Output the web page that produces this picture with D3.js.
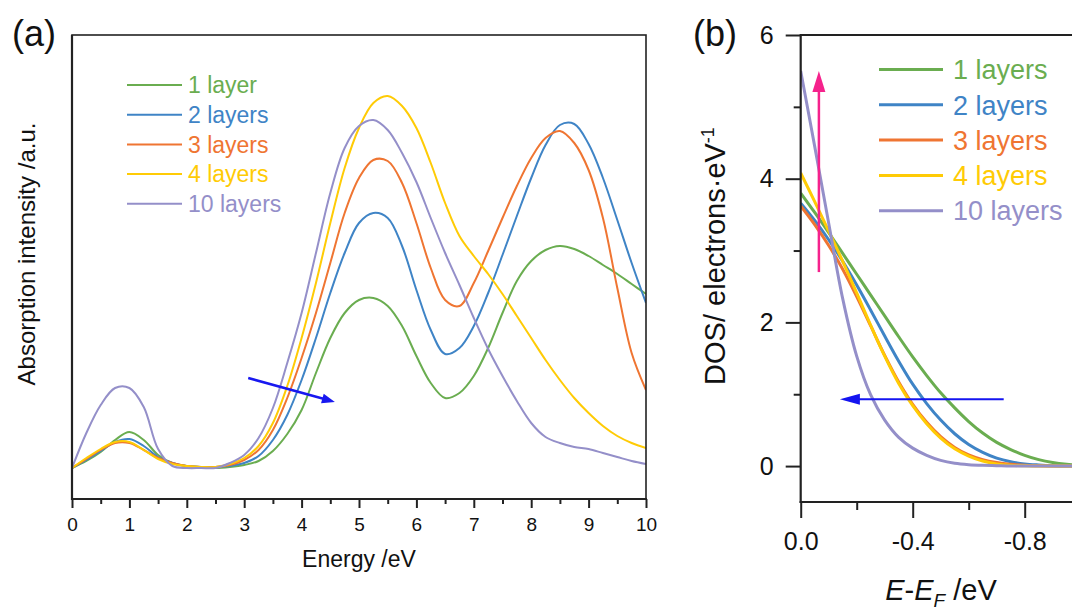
<!DOCTYPE html>
<html><head><meta charset="utf-8">
<script src="https://cdn.jsdelivr.net/npm/d3@7"></script>
<style>
body{margin:0;background:#fff}
text{font-family:Arial,"Liberation Sans",sans-serif}
</style>
</head><body>
<svg id="c" width="1072" height="610"></svg>
<script>
// ---------- DATA ----------
const namesA = ["1 layer","2 layers","3 layers","4 layers","10 layers"];
const namesB = ["1 layers","2 layers","3 layers","4 layers","10 layers"];
const colors = ["#6aad50","#3f84c6","#ef7532","#ffcb05","#948fc9"];

// Panel (a): absorption spectra, energy in eV
const energy = [0,0.25,0.5,0.75,1,1.25,1.5,1.75,2,2.25,2.5,2.75,3,3.25,3.5,3.75,4,4.25,4.5,4.75,5,5.25,5.5,5.75,6,6.25,6.5,6.75,7,7.25,7.5,7.75,8,8.25,8.5,8.75,9,9.25,9.5,9.75,10];
const abs1 = [0,0.07,0.16,0.28,0.36,0.28,0.13,0.05,0.02,0.01,0,0.01,0.03,0.07,0.17,0.34,0.58,0.95,1.3,1.55,1.68,1.7,1.62,1.42,1.12,0.85,0.7,0.75,0.92,1.2,1.55,1.87,2.07,2.18,2.22,2.19,2.12,2.03,1.94,1.84,1.74];
const abs2 = [0,0.08,0.17,0.26,0.29,0.22,0.11,0.05,0.02,0.01,0.01,0.02,0.05,0.12,0.28,0.53,0.88,1.3,1.75,2.15,2.45,2.55,2.5,2.22,1.78,1.38,1.14,1.2,1.42,1.75,2.13,2.52,2.9,3.23,3.43,3.44,3.24,2.9,2.48,2.05,1.65];
const abs3 = [0,0.09,0.18,0.25,0.25,0.18,0.1,0.05,0.02,0.01,0.01,0.03,0.08,0.18,0.38,0.7,1.1,1.55,2.05,2.55,2.9,3.08,3.07,2.85,2.45,2.0,1.68,1.62,1.85,2.17,2.5,2.82,3.1,3.3,3.37,3.25,2.98,2.5,1.8,1.15,0.78];
const abs4 = [0,0.1,0.19,0.26,0.26,0.18,0.09,0.04,0.02,0.01,0.01,0.04,0.1,0.22,0.45,0.82,1.3,1.85,2.45,3.0,3.4,3.65,3.72,3.62,3.4,3.05,2.65,2.32,2.12,1.94,1.74,1.52,1.3,1.08,0.88,0.7,0.55,0.42,0.32,0.25,0.2];
const abs10 = [0,0.35,0.63,0.8,0.8,0.61,0.19,0.02,0,0,0,0.05,0.13,0.3,0.6,1.05,1.55,2.15,2.75,3.2,3.42,3.48,3.38,3.15,2.86,2.5,2.15,1.83,1.5,1.19,0.92,0.67,0.45,0.31,0.25,0.21,0.19,0.15,0.11,0.07,0.04];
const absSeries = [abs1,abs2,abs3,abs4,abs10];
const energyTicks = [0,1,2,3,4,5,6,7,8,9,10];
const energyMinor = [0.5,1.5,2.5,3.5,4.5,5.5,6.5,7.5,8.5,9.5];

// Panel (b): DOS near Fermi level
const eRel = [0,-0.05,-0.1,-0.15,-0.2,-0.25,-0.3,-0.35,-0.4,-0.45,-0.5,-0.55,-0.6,-0.65,-0.7,-0.75,-0.8,-0.85,-0.9,-0.95,-1.0];
const dos1 = [3.8,3.53,3.25,2.96,2.67,2.38,2.09,1.8,1.52,1.26,1.02,0.81,0.62,0.46,0.33,0.23,0.15,0.09,0.05,0.025,0.01];
const dos2 = [3.66,3.42,3.15,2.85,2.52,2.17,1.81,1.46,1.14,0.87,0.64,0.45,0.3,0.19,0.11,0.06,0.03,0.015,0.005,0,0];
const dos3 = [3.62,3.36,3.07,2.74,2.36,1.95,1.54,1.17,0.86,0.61,0.41,0.26,0.155,0.09,0.05,0.025,0.01,0.004,0,0,0];
const dos4 = [4.08,3.68,3.27,2.85,2.41,1.96,1.53,1.15,0.84,0.59,0.39,0.24,0.14,0.07,0.03,0.01,0.003,0,0,0,0];
const dos10 = [5.5,4.45,3.38,2.33,1.53,0.99,0.64,0.4,0.25,0.15,0.08,0.04,0.02,0.01,0.005,0,0,0,0,0,0];
const dosSeries = [dos1,dos2,dos3,dos4,dos10];
const eRelTicks = [0,-0.4,-0.8];
const eRelMinor = [-0.2,-0.6,-1.0];
const dosTicks = [0,2,4,6];
const dosMinor = [1,3,5];

// annotation arrows in data coordinates [x1,y1,x2,y2]
const arrowA = [3.07,0.9,4.58,0.66];
const arrowBup = [-0.065,2.7,-0.065,5.5];
const arrowBleft = [-0.725,0.93,-0.14,0.93];

// ---------- DRAW ----------
const svg = d3.select("#c");
svg.append("rect").attr("width",1072).attr("height",610).attr("fill","#fff");
const axisCol = "#222";

function arrow(g, x1,y1,x2,y2,col,w,hl,hw){
  const dx=x2-x1, dy=y2-y1, L=Math.hypot(dx,dy), ux=dx/L, uy=dy/L;
  const bx=x2-ux*hl, by=y2-uy*hl;
  g.append("line").attr("x1",x1).attr("y1",y1).attr("x2",bx+ux*2).attr("y2",by+uy*2)
    .attr("stroke",col).attr("stroke-width",w);
  g.append("path").attr("d",`M${x2},${y2}L${bx-uy*hw},${by+ux*hw}L${bx+uy*hw},${by-ux*hw}Z`).attr("fill",col);
}

// ===== Panel (a) =====
const xa = d3.scaleLinear().domain([0,10]).range([72,646]);
const ya = d3.scaleLinear().domain([-0.31,4.33]).range([499,35]);
const ga = svg.append("g");
ga.append("clipPath").attr("id","ca").append("rect").attr("x",72).attr("y",35).attr("width",574).attr("height",464);
const lineA = d3.line().x((d,i)=>xa(energy[i])).y(d=>ya(d)).curve(d3.curveCatmullRom.alpha(0.5));
[0,1,2,3,4].forEach(k=>{
  ga.append("path").attr("d",lineA(absSeries[k])).attr("fill","none")
    .attr("stroke",colors[k]).attr("stroke-width",2).attr("clip-path","url(#ca)");
});
// frame
ga.append("rect").attr("x",72).attr("y",35).attr("width",574).attr("height",464)
  .attr("fill","none").attr("stroke",axisCol).attr("stroke-width",1.6);
ga.append("line").attr("x1",72).attr("x2",72).attr("y1",35).attr("y2",500).attr("stroke",axisCol).attr("stroke-width",2.2);
ga.append("line").attr("x1",71).attr("x2",647).attr("y1",499).attr("y2",499).attr("stroke",axisCol).attr("stroke-width",2.2);
// x axis ticks
const axA = ga.append("g").attr("transform","translate(0,499)")
  .call(d3.axisBottom(xa).tickValues(energyTicks).tickSize(9).tickPadding(9.5).tickFormat(d3.format("d")));
const axAm = ga.append("g").attr("transform","translate(0,499)")
  .call(d3.axisBottom(xa).tickValues(energyMinor).tickSize(5).tickFormat(""));
[axA,axAm].forEach(a=>{a.select(".domain").remove(); a.selectAll("line").attr("stroke",axisCol).attr("stroke-width",2);});
axA.selectAll("text").attr("font-size",19).attr("fill","#111").style("font-family","Arial, 'Liberation Sans', sans-serif");
// labels
ga.append("text").attr("x",359).attr("y",567).attr("text-anchor","middle").attr("font-size",23).attr("fill","#111").text("Energy /eV");
ga.append("text").attr("transform","translate(35,254) rotate(-90)").attr("text-anchor","middle")
  .attr("font-size",24).attr("fill","#111").text("Absorption intensity /a.u.");
svg.append("text").attr("x",12).attr("y",46).attr("font-size",36).attr("fill","#111").text("(a)");
// legend
namesA.forEach((n,i)=>{
  const ly = 85 + i*29.7;
  ga.append("line").attr("x1",127).attr("x2",182).attr("y1",ly).attr("y2",ly).attr("stroke",colors[i]).attr("stroke-width",2);
  ga.append("text").attr("x",188).attr("y",ly+0.36*23).attr("font-size",23).attr("fill",colors[i]).text(n);
});
arrow(ga, xa(arrowA[0]),ya(arrowA[1]),xa(arrowA[2]),ya(arrowA[3]),"#1818f0",2.5,13,5);

// ===== Panel (b) =====
const xb = d3.scaleLinear().domain([0,-1.0]).range([800.7,1080.7]);
const yb = d3.scaleLinear().domain([-0.5,6]).range([502,35]);
const gb = svg.append("g");
gb.append("clipPath").attr("id","cb").append("rect").attr("x",800.7).attr("y",35).attr("width",290).attr("height",467);
const lineB = d3.line().x((d,i)=>xb(eRel[i])).y(d=>yb(d)).curve(d3.curveCatmullRom.alpha(0.5));
[0,1,2,3,4].forEach(k=>{
  gb.append("path").attr("d",lineB(dosSeries[k])).attr("fill","none")
    .attr("stroke",colors[k]).attr("stroke-width",3).attr("clip-path","url(#cb)");
});
gb.append("line").attr("x1",800.7).attr("x2",1080).attr("y1",35).attr("y2",35).attr("stroke",axisCol).attr("stroke-width",2);
gb.append("line").attr("x1",800.7).attr("x2",800.7).attr("y1",34).attr("y2",503).attr("stroke",axisCol).attr("stroke-width",2.2);
gb.append("line").attr("x1",799.6).attr("x2",1080).attr("y1",502).attr("y2",502).attr("stroke",axisCol).attr("stroke-width",2.2);
const axBx = gb.append("g").attr("transform","translate(0,502)")
  .call(d3.axisBottom(xb).tickValues(eRelTicks).tickSize(16).tickPadding(14).tickFormat(d=>d.toFixed(1)));
const axBxm = gb.append("g").attr("transform","translate(0,502)")
  .call(d3.axisBottom(xb).tickValues(eRelMinor).tickSize(8).tickFormat(""));
const axBy = gb.append("g").attr("transform","translate(800.7,0)")
  .call(d3.axisLeft(yb).tickValues(dosTicks).tickSize(15).tickPadding(12).tickFormat(d3.format("d")));
const axBym = gb.append("g").attr("transform","translate(800.7,0)")
  .call(d3.axisLeft(yb).tickValues(dosMinor).tickSize(7).tickFormat(""));
[axBx,axBxm,axBy,axBym].forEach(a=>{a.select(".domain").remove(); a.selectAll("line").attr("stroke",axisCol).attr("stroke-width",2);});
[axBx,axBy].forEach(a=>a.selectAll("text").attr("font-size",25).attr("fill","#111").style("font-family","Arial, 'Liberation Sans', sans-serif"));
svg.append("text").attr("x",693).attr("y",46).attr("font-size",36).attr("fill","#111").text("(b)");
// y label
const yl = gb.append("text").attr("transform","translate(725,256) rotate(-90)").attr("text-anchor","middle")
  .attr("font-size",29).attr("fill","#111");
yl.append("tspan").text("DOS/ electrons\u00B7eV");
yl.append("tspan").attr("dy",-11).attr("font-size",18).text("-1");
// x label
const xl = gb.append("text").attr("x",941).attr("y",600).attr("text-anchor","middle").attr("font-size",29).attr("fill","#111");
xl.append("tspan").attr("font-style","italic").text("E");
xl.append("tspan").text("-");
xl.append("tspan").attr("font-style","italic").text("E");
xl.append("tspan").attr("font-style","italic").attr("font-size",19).attr("dy",7).text("F");
xl.append("tspan").attr("dy",-7).text(" /eV");
// legend
namesB.forEach((n,i)=>{
  const ly = 69.5 + i*35.3;
  gb.append("line").attr("x1",879).attr("x2",943).attr("y1",ly).attr("y2",ly).attr("stroke",colors[i]).attr("stroke-width",3);
  gb.append("text").attr("x",953).attr("y",ly+0.36*27).attr("font-size",27).attr("fill",colors[i]).text(n);
});
arrow(gb, xb(arrowBup[0]),yb(arrowBup[1]),xb(arrowBup[2]),yb(arrowBup[3]),"#f5228c",2.5,21,6.5);
arrow(gb, xb(arrowBleft[0]),yb(arrowBleft[1]),xb(arrowBleft[2]),yb(arrowBleft[3]),"#1414f0",2.2,20,5.5);
</script>
</body></html>
